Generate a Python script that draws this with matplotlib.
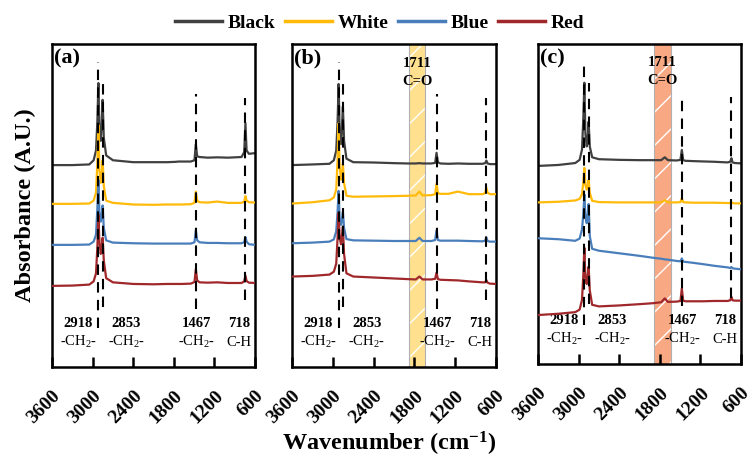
import numpy as np
import matplotlib
matplotlib.use('Agg')
import matplotlib.pyplot as plt
from matplotlib.lines import Line2D

plt.rcParams['font.family'] = ['Liberation Serif', 'DejaVu Serif']
plt.rcParams['mathtext.fontset'] = 'custom'
plt.rcParams['mathtext.rm'] = 'Liberation Serif'
plt.rcParams['mathtext.bf'] = 'Liberation Serif:bold'
plt.rcParams['mathtext.default'] = 'bf'
plt.rcParams['hatch.linewidth'] = 1.0

# ---- data ----
series_names = ['Black', 'White', 'Blue', 'Red']
series_colors = ['#404040', '#FFBA0A', '#4A7EBB', '#A0282A']

# shared wavenumber grid (cm-1)
wn = [3600, 3300, 3050, 2985, 2950, 2930, 2915, 2900, 2880, 2865, 2852, 2835,
      2800, 2700, 2400, 2100, 1900, 1780, 1727, 1680, 1550, 1495, 1475, 1455,
      1420, 1300, 1160, 1000, 800, 760, 742, 725, 690, 600]

# panel (a)
a_black = [0.625, 0.625, 0.627, 0.640, 0.670, 0.760, 0.879, 0.740, 0.700, 0.760, 0.827, 0.710,
           0.655, 0.640, 0.634, 0.634, 0.634, 0.635, 0.636, 0.636, 0.636, 0.640, 0.690, 0.652,
           0.650, 0.648, 0.649, 0.648, 0.650, 0.665, 0.755, 0.670, 0.660, 0.662]
a_white = [0.505, 0.505, 0.506, 0.515, 0.540, 0.630, 0.749, 0.610, 0.570, 0.600, 0.640, 0.560,
           0.515, 0.508, 0.503, 0.502, 0.503, 0.503, 0.503, 0.503, 0.504, 0.508, 0.543, 0.515,
           0.510, 0.509, 0.512, 0.508, 0.508, 0.512, 0.529, 0.515, 0.510, 0.509]
a_blue = [0.378, 0.378, 0.379, 0.388, 0.410, 0.490, 0.579, 0.480, 0.450, 0.470, 0.500, 0.430,
          0.392, 0.385, 0.383, 0.382, 0.382, 0.382, 0.382, 0.382, 0.382, 0.386, 0.424, 0.392,
          0.386, 0.384, 0.384, 0.383, 0.383, 0.386, 0.402, 0.388, 0.380, 0.378]
a_red = [0.251, 0.252, 0.255, 0.265, 0.290, 0.370, 0.471, 0.390, 0.350, 0.370, 0.400, 0.330,
         0.275, 0.262, 0.257, 0.256, 0.257, 0.257, 0.257, 0.257, 0.258, 0.263, 0.303, 0.268,
         0.262, 0.261, 0.262, 0.260, 0.260, 0.265, 0.283, 0.266, 0.261, 0.260]

# panel (b)
b_black = [0.625, 0.627, 0.629, 0.640, 0.670, 0.760, 0.876, 0.730, 0.690, 0.750, 0.806, 0.700,
           0.645, 0.634, 0.633, 0.631, 0.630, 0.630, 0.631, 0.630, 0.630, 0.632, 0.663, 0.634,
           0.630, 0.629, 0.630, 0.629, 0.629, 0.631, 0.639, 0.630, 0.628, 0.628]
b_white = [0.506, 0.510, 0.516, 0.525, 0.550, 0.640, 0.754, 0.620, 0.580, 0.600, 0.630, 0.570,
           0.530, 0.527, 0.528, 0.529, 0.530, 0.531, 0.543, 0.531, 0.532, 0.535, 0.568, 0.538,
           0.536, 0.536, 0.543, 0.535, 0.535, 0.538, 0.555, 0.540, 0.535, 0.535]
b_blue = [0.383, 0.385, 0.388, 0.395, 0.420, 0.480, 0.545, 0.460, 0.440, 0.460, 0.480, 0.430,
          0.396, 0.392, 0.391, 0.390, 0.390, 0.390, 0.400, 0.390, 0.390, 0.393, 0.424, 0.393,
          0.391, 0.391, 0.391, 0.390, 0.389, 0.391, 0.401, 0.390, 0.388, 0.388]
b_red = [0.280, 0.282, 0.286, 0.295, 0.320, 0.400, 0.477, 0.400, 0.380, 0.410, 0.434, 0.350,
         0.290, 0.280, 0.277, 0.274, 0.272, 0.271, 0.280, 0.271, 0.271, 0.273, 0.292, 0.272,
         0.270, 0.269, 0.268, 0.265, 0.262, 0.262, 0.269, 0.261, 0.258, 0.257]

# panel (c)
c_black = [0.619, 0.622, 0.628, 0.638, 0.670, 0.770, 0.879, 0.720, 0.680, 0.710, 0.757, 0.680,
           0.646, 0.640, 0.638, 0.637, 0.637, 0.637, 0.646, 0.637, 0.636, 0.638, 0.669, 0.637,
           0.635, 0.634, 0.633, 0.632, 0.630, 0.632, 0.643, 0.630, 0.628, 0.627]
c_white = [0.505, 0.507, 0.511, 0.516, 0.530, 0.570, 0.613, 0.560, 0.545, 0.560, 0.575, 0.535,
           0.510, 0.506, 0.505, 0.505, 0.505, 0.505, 0.512, 0.505, 0.505, 0.506, 0.518, 0.506,
           0.505, 0.504, 0.504, 0.504, 0.503, 0.503, 0.506, 0.503, 0.502, 0.502]
c_blue = [0.393, 0.390, 0.385, 0.392, 0.420, 0.470, 0.530, 0.460, 0.440, 0.470, 0.500, 0.400,
          0.360, 0.354, 0.346, 0.338, 0.332, 0.329, 0.327, 0.326, 0.322, 0.321, 0.330, 0.320,
          0.319, 0.316, 0.312, 0.307, 0.302, 0.300, 0.303, 0.299, 0.298, 0.296]
c_red = [0.153, 0.157, 0.162, 0.170, 0.200, 0.280, 0.363, 0.270, 0.250, 0.280, 0.304, 0.230,
         0.185, 0.180, 0.183, 0.187, 0.190, 0.193, 0.205, 0.194, 0.195, 0.197, 0.236, 0.198,
         0.196, 0.196, 0.196, 0.197, 0.197, 0.199, 0.210, 0.199, 0.198, 0.198]

panel_data = [[a_black, a_white, a_blue, a_red],
              [b_black, b_white, b_blue, b_red],
              [c_black, c_white, c_blue, c_red]]
panel_tags = ['(a)', '(b)', '(c)']

# assigned bands
band_pos = [2915, 2852, 1475, 742]
band_nums = ['2918', '2853', '1467', '718']
band_groups = ['-CH$_\\mathrm{2}$-', '-CH$_\\mathrm{2}$-', '-CH$_\\mathrm{2}$-', 'C-H']
band_label_x = [3210, 2500, 1460, 840]
dash_top = [0.944, 0.879, 0.845, 0.833]
dash_bottom = [0.121, 0.186, 0.180, 0.207]

# carbonyl region (panels b, c)
co_band = (1640, 1880)
co_colors = [None, '#FFE08E', '#F8A883']

xticks = [3600, 3000, 2400, 1800, 1200, 600]

# ---- figure ----
fig = plt.figure(figsize=(7.55, 4.57), dpi=100)
axes_pos = [[0.0689, 0.197, 0.2689, 0.7068],
            [0.3868, 0.197, 0.2702, 0.7068],
            [0.7126, 0.2035, 0.2689, 0.7002]]

for k in range(3):
    ax = fig.add_axes(axes_pos[k])
    if co_colors[k] is not None:
        ax.axvspan(co_band[0], co_band[1], facecolor=co_colors[k], edgecolor='white',
                   hatch='/', linewidth=0, zorder=0)
        ax.axvspan(co_band[0], co_band[1], fill=False, edgecolor='#B0B0B0',
                   linewidth=0.8, zorder=0.5)
        ax.text(np.mean(co_band), 0.941, '1711', transform=ax.get_xaxis_transform(),
                ha='center', va='center', fontsize=10.5, fontweight='bold', zorder=5)
        ax.text(np.mean(co_band), 0.885, 'C=O', transform=ax.get_xaxis_transform(),
                ha='center', va='center', fontsize=10.5, fontweight='bold', zorder=5)

    for s, y in enumerate(panel_data[k]):
        ax.plot(wn, y, color=series_colors[s], lw=1.6, zorder=2 + s)

    for i, xp in enumerate(band_pos):
        ax.axvline(xp, ymin=dash_bottom[i], ymax=dash_top[i], color='black',
                   lw=1.5, ls=(0, (5, 3.5)), zorder=10)
        ax.text(band_label_x[i], 0.136, band_nums[i], transform=ax.get_xaxis_transform(),
                ha='center', va='center', fontsize=10.5, fontweight='bold')
        ax.text(band_label_x[i], 0.077, band_groups[i], transform=ax.get_xaxis_transform(),
                ha='center', va='center', fontsize=10.5)

    ax.text(0.012, 0.985, panel_tags[k], transform=ax.transAxes, ha='left', va='top',
            fontsize=16, fontweight='bold')

    ax.set_xlim(3600, 600)
    ax.set_ylim(0, 1)
    ax.set_xticks(xticks)
    ax.set_xticklabels([str(t) for t in xticks], rotation=45, fontsize=14,
                       fontweight='bold', ha='right', va='top', rotation_mode='anchor')
    ax.set_yticks([])
    ax.tick_params(axis='x', direction='in', length=7, width=1.8, pad=14.5)
    for sp in ax.spines.values():
        sp.set_linewidth(1.8)

fig.text(0.034, 0.551, 'Absorbance (A.U.)', rotation=90, ha='center', va='center',
         fontsize=17.5, fontweight='bold')
fig.text(0.516, 0.029, 'Wavenumber (cm$^{-1}$)', ha='center', va='center',
         fontsize=17.5, fontweight='bold')

handles = [Line2D([0], [0], color=c, lw=2.5) for c in series_colors]
fig.legend(handles, series_names, loc='center', bbox_to_anchor=(0.503, 0.95), ncol=4,
           frameon=False, handlelength=2.4, handletextpad=0.3, columnspacing=0.5,
           prop={'weight': 'bold', 'size': 14})

fig.savefig('out.png', dpi=100)
